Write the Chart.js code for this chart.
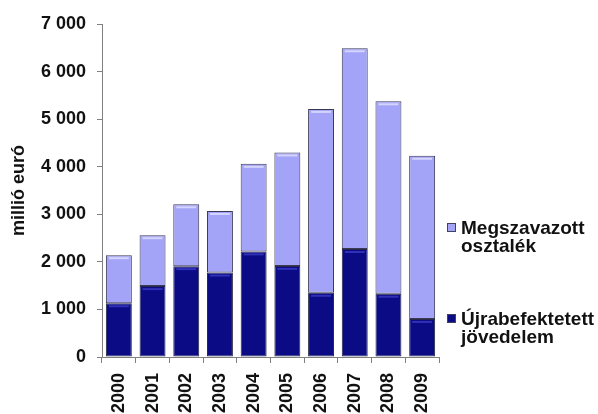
<!DOCTYPE html>
<html>
<head>
<meta charset="utf-8">
<script src="https://cdn.jsdelivr.net/npm/chart.js@4/dist/chart.umd.min.js"></script>
<style>
  html, body { margin: 0; padding: 0; background: #fff; }
  #wrap { width: 598px; height: 414px; }
</style>
</head>
<body>
<div id="wrap"><canvas id="chart" width="598" height="414"></canvas></div>
<script>
// Chart data (millió euró)
const years = ['2000', '2001', '2002', '2003', '2004', '2005', '2006', '2007', '2008', '2009'];
const reinvested = [1130, 1490, 1910, 1775, 2220, 1915, 1350, 2270, 1330, 800];
const dividends = [1010, 1070, 1300, 1295, 1840, 2385, 3865, 4220, 4045, 3430];
const reinvestedLabel = ['Újrabefektetett', 'jövedelem'];
const dividendsLabel = ['Megszavazott', 'osztalék'];
const yAxisTitle = 'millió euró';

const FONT = '"Liberation Sans", Arial, sans-serif';
const darkBlue = '#0b0b85';
const lightBlue = '#a3a3f7';

// format 7000 -> "7 000"
function fmt(v) {
  return String(v).replace(/\B(?=(\d{3})+(?!\d))/g, ' ');
}

// Legend drawn on the right side, two-line labels
const sideLegend = {
  id: 'sideLegend',
  afterDraw(chart) {
    const ctx = chart.ctx;
    const items = [
      { ds: chart.data.datasets[1], y: 234 },
      { ds: chart.data.datasets[0], y: 325 }
    ];
    ctx.save();
    ctx.font = 'bold 19px ' + FONT;
    ctx.textBaseline = 'alphabetic';
    items.forEach(it => {
      ctx.fillStyle = it.ds.backgroundColor;
      ctx.fillRect(447, it.y - 11, 9, 9);
      ctx.strokeStyle = '#404060';
      ctx.lineWidth = 1;
      ctx.strokeRect(447.5, it.y - 10.5, 8, 8);
      ctx.fillStyle = '#111';
      it.ds.legendLines.forEach((line, i) => {
        ctx.fillText(line, 461, it.y + i * 18);
      });
    });
    ctx.restore();
  }
};

// light highlight stripe at the top of every bar segment
const barBevel = {
  id: 'barBevel',
  afterDatasetsDraw(chart) {
    const ctx = chart.ctx;
    ctx.save();
    chart.data.datasets.forEach((ds, i) => {
      chart.getDatasetMeta(i).data.forEach(bar => {
        const half = bar.width / 2;
        ctx.fillStyle = ds.bevelColor;
        ctx.fillRect(bar.x - half + 3, bar.y + 2, bar.width - 6, 2);
      });
    });
    ctx.restore();
  }
};

const ctx = document.getElementById('chart').getContext('2d');
const chart = new Chart(ctx, {
  type: 'bar',
  data: {
    labels: years,
    datasets: [{
      label: reinvestedLabel.join(' '),
      legendLines: reinvestedLabel,
      data: reinvested,
      backgroundColor: darkBlue,
      bevelColor: '#3030b8',
      borderColor: '#2a2a48',
      borderWidth: 1,
      borderSkipped: false,
      barPercentage: 0.77,
      categoryPercentage: 1
    }, {
      label: dividendsLabel.join(' '),
      legendLines: dividendsLabel,
      data: dividends,
      backgroundColor: lightBlue,
      bevelColor: '#d4d4fc',
      borderColor: '#3a3a55',
      borderWidth: 1,
      borderSkipped: false,
      barPercentage: 0.77,
      categoryPercentage: 1
    }]
  },
  options: {
    responsive: false,
    animation: false,
    layout: {
      padding: { left: 8, right: 159, top: 24, bottom: 0 }
    },
    plugins: {
      legend: { display: false },
      tooltip: { enabled: false }
    },
    scales: {
      x: {
        stacked: true,
        afterFit: scale => { scale.height = 57; },
        grid: {
          drawOnChartArea: false,
          color: '#808080',
          tickLength: 6
        },
        border: { color: '#808080' },
        ticks: {
          minRotation: 90,
          maxRotation: 90,
          padding: 10,
          color: '#111',
          font: { family: FONT, size: 18, weight: 'bold' }
        }
      },
      y: {
        stacked: true,
        min: 0,
        max: 7000,
        afterFit: scale => { scale.width = 94; },
        grid: {
          drawOnChartArea: false,
          color: '#808080',
          tickLength: 5
        },
        border: { color: '#808080' },
        ticks: {
          stepSize: 1000,
          padding: 11,
          color: '#111',
          font: { family: FONT, size: 18, weight: 'bold' },
          callback: v => fmt(v)
        },
        title: {
          display: true,
          text: yAxisTitle,
          color: '#111',
          padding: { top: 0, bottom: 9 },
          font: { family: FONT, size: 18, weight: 'bold' }
        }
      }
    }
  },
  plugins: [sideLegend, barBevel]
});
</script>
</body>
</html>
